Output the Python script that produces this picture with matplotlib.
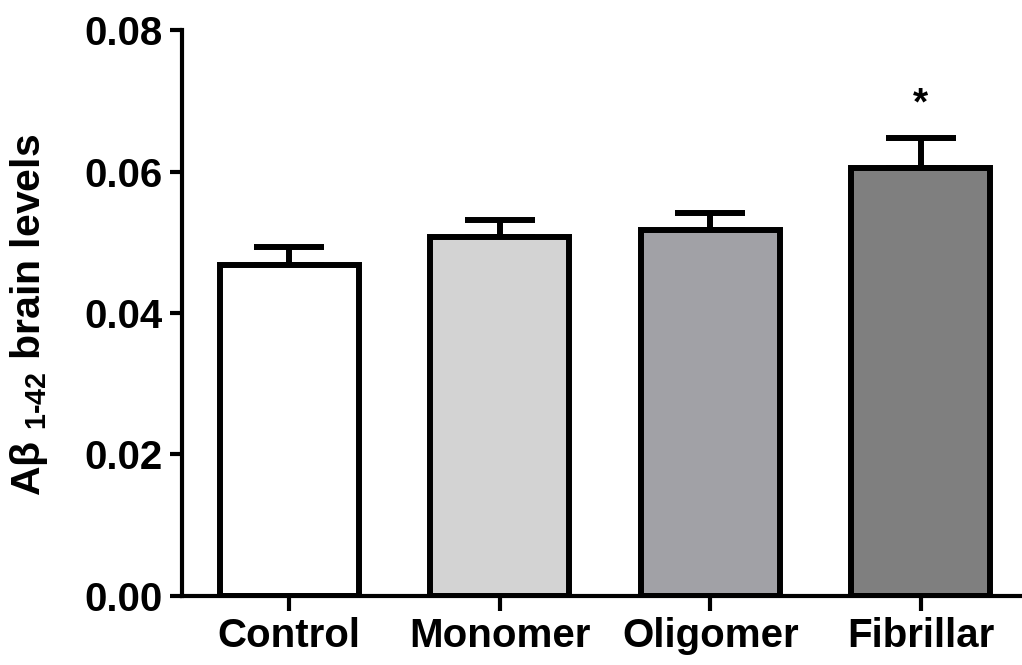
import matplotlib
matplotlib.use("Agg")
import matplotlib.pyplot as plt

# group means and SEM
groups = ["Control", "Monomer", "Oligomer", "Fibrillar"]
means = [0.0468, 0.0508, 0.0518, 0.0605]
sems = [0.0026, 0.0024, 0.0024, 0.0042]
colors = ["#ffffff", "#d3d3d3", "#a1a1a6", "#7f7f7f"]
yticks = [0.00, 0.02, 0.04, 0.06, 0.08]
ytick_labels = ["0.00", "0.02", "0.04", "0.06", "0.08"]

plt.rcParams["font.family"] = ["Liberation Sans", "DejaVu Sans"]

fig = plt.figure(figsize=(10.22, 6.65), dpi=100)
ax = fig.add_axes([0.178, 0.1038, 0.822, 0.851])

x = range(len(groups))
ax.bar(x, means, width=0.66, color=colors, edgecolor="black",
       linewidth=4.3, zorder=2)
ax.errorbar(x, means, yerr=[[0] * len(sems), sems], fmt="none",
            ecolor="black", elinewidth=4.3, capsize=25, capthick=4.3,
            zorder=1)

# significance mark above Fibrillar
ax.text(3, means[3] + sems[3] + 0.0022, "*", ha="center", va="bottom",
        fontsize=28, fontweight="bold")

ax.set_xlim(-0.51, 3.48)
ax.set_ylim(0, 0.08)
ax.set_yticks(yticks)
ax.set_yticklabels(ytick_labels)
ax.set_xticks(list(x))
ax.set_xticklabels(groups)

for side in ("top", "right"):
    ax.spines[side].set_visible(False)
for side in ("left", "bottom"):
    ax.spines[side].set_linewidth(3)

ax.tick_params(axis="both", direction="out", width=3, labelsize=29)
ax.tick_params(axis="y", length=9, pad=5)
ax.tick_params(axis="x", length=11, pad=4)
for lab in ax.get_xticklabels() + ax.get_yticklabels():
    lab.set_fontweight("bold")

ax.set_ylabel("A\u03b2 $_{\\mathregular{1\u201042}}$ brain levels",
              fontsize=29.5, fontweight="bold")
ax.yaxis.set_label_coords(-0.157, 0.496)

fig.savefig("out.png", dpi=100)
